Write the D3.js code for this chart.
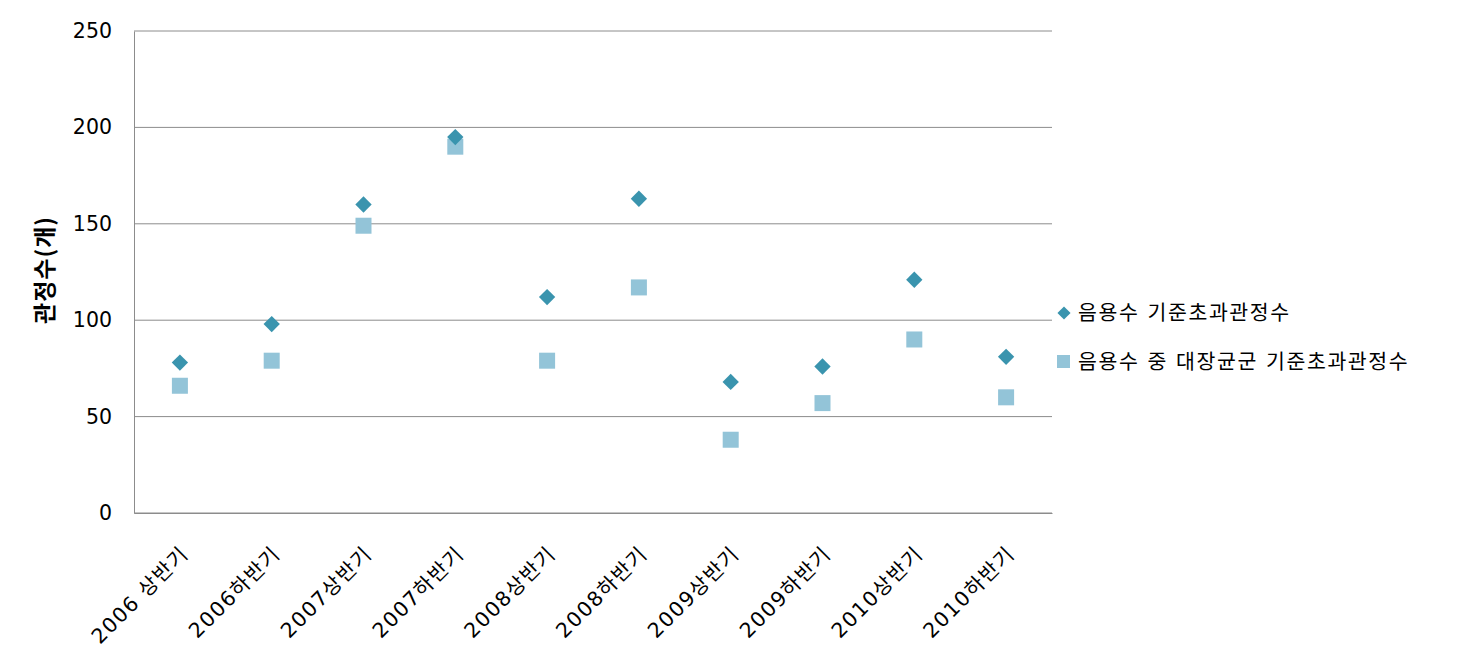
<!DOCTYPE html>
<html>
<head>
<meta charset="utf-8">
<script src="https://cdn.jsdelivr.net/npm/d3@7"></script>
<style>
  body { margin: 0; background: #fff; }
  svg text { font-family: "DejaVu Sans", "Noto Sans CJK KR", sans-serif; fill: #000; }
</style>
</head>
<body>
<svg id="chart" width="1461" height="663"></svg>
<script>
// data
var periods = ['2006 상반기', '2006하반기', '2007상반기', '2007하반기', '2008상반기',
               '2008하반기', '2009상반기', '2009하반기', '2010상반기', '2010하반기'];
var exceedAll = [78, 98, 160, 195, 112, 163, 68, 76, 121, 81];
var exceedColi = [66, 79, 149, 190, 79, 117, 38, 57, 90, 60];
var yTicks = [0, 50, 100, 150, 200, 250];
var seriesNames = ['음용수 기준초과관정수', '음용수 중 대장균군 기준초과관정수'];

var svg = d3.select('#chart');
var padding = {t: 31, r: 409, b: 150, l: 134};
var width = 1461 - padding.l - padding.r;
var height = 663 - padding.t - padding.b;

var chartG = svg.append('g')
    .attr('transform', 'translate(' + [padding.l, padding.t] + ')');

var xScale = d3.scaleBand().domain(periods).range([0, width]);
var yScale = d3.scaleLinear().domain([0, 250]).range([height, 0]);

// gridlines
chartG.append('g')
    .selectAll('line')
    .data(yTicks)
    .join('line')
    .attr('x1', 0).attr('x2', width)
    .attr('y1', d => yScale(d)).attr('y2', d => yScale(d))
    .attr('stroke', '#8c8c8c').attr('stroke-width', 1);

// y axis
var yG = chartG.append('g')
    .call(d3.axisLeft(yScale).tickValues(yTicks).tickSize(0).tickPadding(22));
yG.select('.domain').attr('stroke', '#8c8c8c');
yG.selectAll('text').style('font-size', '20.5px');

// x axis
var xG = chartG.append('g')
    .attr('transform', 'translate(0,' + height + ')')
    .call(d3.axisBottom(xScale).tickSize(0));
xG.select('.domain').attr('stroke', '#8c8c8c');
xG.selectAll('text')
    .style('font-size', '20.5px')
    .style('letter-spacing', '1.5px')
    .attr('text-anchor', 'end')
    .attr('dy', null)
    .attr('y', 0)
    .attr('transform', 'translate(10,42) rotate(-45)');
chartG.selectAll('.tick text').attr('font-family', null);

// y title
svg.append('text')
    .text('관정수(개)')
    .attr('transform', 'translate(53,270) rotate(-90)')
    .attr('text-anchor', 'middle')
    .style('font-family', '"Noto Sans CJK KR", sans-serif')
    .style('font-size', '23px')
    .style('letter-spacing', '1px')
    .style('font-weight', 'bold');

var diamond = d3.symbol().type(d3.symbolDiamond2).size(170);

// squares (series 2)
chartG.selectAll('.sq')
    .data(exceedColi)
    .join('rect')
    .attr('class', 'sq')
    .attr('x', (d, i) => xScale(periods[i]) + xScale.bandwidth() / 2 - 8)
    .attr('y', d => yScale(d) - 8)
    .attr('width', 16).attr('height', 16)
    .attr('fill', '#93c4d8');

// diamonds (series 1)
chartG.selectAll('.dm')
    .data(exceedAll)
    .join('path')
    .attr('class', 'dm')
    .attr('d', diamond)
    .attr('transform', (d, i) => 'translate(' + (xScale(periods[i]) + xScale.bandwidth() / 2) + ',' + yScale(d) + ')')
    .attr('fill', '#3a94ae');

// legend
var legend = svg.append('g').attr('transform', 'translate(1064,313)');
legend.append('path')
    .attr('d', d3.symbol().type(d3.symbolDiamond2).size(110))
    .attr('fill', '#3a94ae');
legend.append('text').text(seriesNames[0])
    .attr('x', 14).attr('y', 0).attr('dy', '0.36em')
    .style('font-size', '20.5px')
    .style('letter-spacing', '1.6px');
legend.append('rect')
    .attr('x', -7).attr('y', 42).attr('width', 13).attr('height', 13)
    .attr('fill', '#93c4d8');
legend.append('text').text(seriesNames[1])
    .attr('x', 14).attr('y', 49).attr('dy', '0.36em')
    .style('font-size', '20.5px')
    .style('letter-spacing', '1.6px');
</script>
</body>
</html>
